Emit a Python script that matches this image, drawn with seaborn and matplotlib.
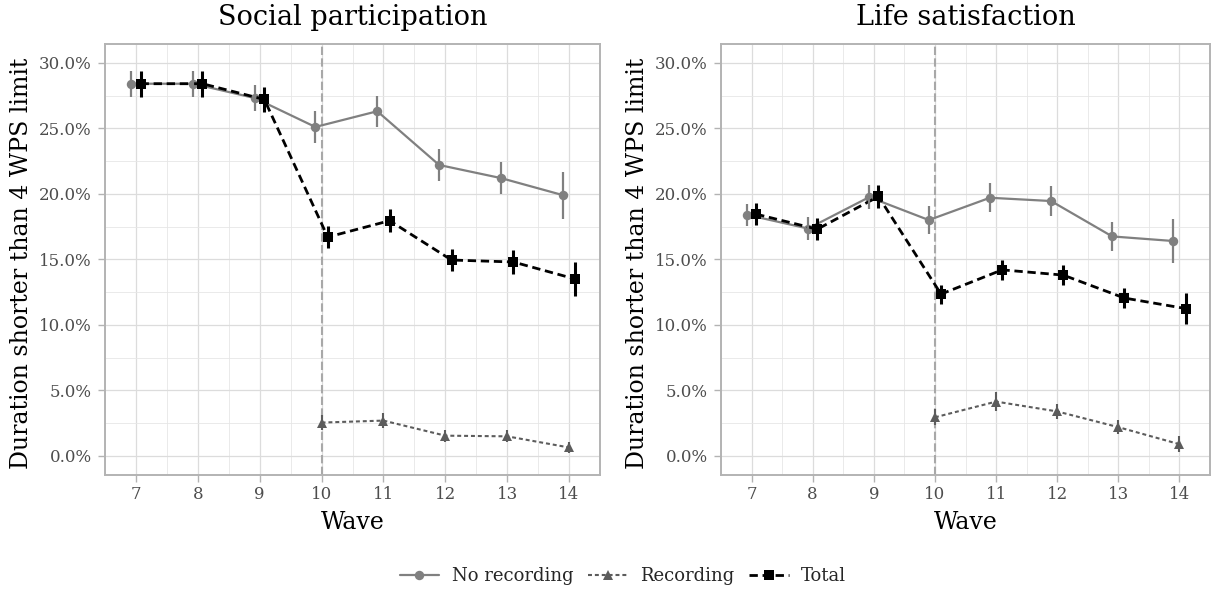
import numpy as np
import pandas as pd
import matplotlib
matplotlib.use("Agg")
import matplotlib.pyplot as plt
import seaborn as sns
from matplotlib.lines import Line2D
from matplotlib.ticker import FuncFormatter, MultipleLocator

# ---------------- data ----------------
waves = [7, 8, 9, 10, 11, 12, 13, 14]
rec_waves = [10, 11, 12, 13, 14]
panel_titles = ["Social participation", "Life satisfaction"]
groups = ["No recording", "Recording", "Total"]

sp_norec = [28.4, 28.4, 27.3, 25.1, 26.3, 22.2, 21.2, 19.9]
sp_norec_err = [1.0, 1.0, 1.0, 1.25, 1.2, 1.2, 1.2, 1.8]
sp_rec = [2.55, 2.7, 1.55, 1.5, 0.65]
sp_rec_err = [0.6, 0.6, 0.45, 0.45, 0.45]
sp_tot = [28.4, 28.4, 27.2, 16.7, 17.95, 14.95, 14.8, 13.5]
sp_tot_err = [1.0, 1.0, 0.97, 0.85, 0.86, 0.83, 0.88, 1.28]

ls_norec = [18.4, 17.35, 19.75, 18.0, 19.7, 19.45, 16.75, 16.4]
ls_norec_err = [0.86, 0.85, 0.89, 1.1, 1.1, 1.13, 1.1, 1.7]
ls_rec = [2.95, 4.15, 3.4, 2.2, 0.9]
ls_rec_err = [0.6, 0.7, 0.6, 0.55, 0.6]
ls_tot = [18.45, 17.3, 19.8, 12.35, 14.2, 13.8, 12.05, 11.25]
ls_tot_err = [0.86, 0.85, 0.89, 0.72, 0.76, 0.78, 0.78, 1.17]

recording_start = 10
y_ticks = [0, 5, 10, 15, 20, 25, 30]

rows = []
for panel, (nr, nre, rc, rce, tt, tte) in zip(
        panel_titles,
        [(sp_norec, sp_norec_err, sp_rec, sp_rec_err, sp_tot, sp_tot_err),
         (ls_norec, ls_norec_err, ls_rec, ls_rec_err, ls_tot, ls_tot_err)]):
    for w, v, e in zip(waves, nr, nre):
        rows.append((panel, "No recording", w, v, e))
    for w, v, e in zip(rec_waves, rc, rce):
        rows.append((panel, "Recording", w, v, e))
    for w, v, e in zip(waves, tt, tte):
        rows.append((panel, "Total", w, v, e))
df = pd.DataFrame(rows, columns=["panel", "group", "wave", "value", "err"])

# dodge like ggplot position_dodge(width=0.3)
dodge_w = 0.3
def dodge(sub):
    present = [g for g in groups if g in set(sub["group"])]
    n = len(present)
    off = {g: (i - (n - 1) / 2) * dodge_w / n for i, g in enumerate(present)}
    return sub["wave"] + sub["group"].map(off)
df["x"] = df.groupby(["panel", "wave"], group_keys=False).apply(dodge)

style = {
    "No recording": dict(color="#808080", marker="o", ms=6.8, lw=1.6,
                         ls="-", elw=1.6),
    "Recording": dict(color="#5c5c5c", marker="^", ms=7.5, lw=1.5,
                      ls=(0, (1.9, 1.4)), elw=1.5),
    "Total": dict(color="#000000", marker="s", ms=7.2, lw=2.0,
                  ls=(0, (3, 1.7)), elw=2.2),
}

# ---------------- figure ----------------
sns.set_theme(style="whitegrid")
plt.rcParams["font.family"] = ["DejaVu Serif"]

W, H = 1213, 592
fig = plt.figure(figsize=(W / 100, H / 100), dpi=100)
fig.patch.set_facecolor("white")
ax_boxes = [(105, 44, 600, 475), (721, 44, 1210, 475)]

for (x0, y0, x1, y1), panel in zip(ax_boxes, panel_titles):
    ax = fig.add_axes([x0 / W, 1 - y1 / H, (x1 - x0) / W, (y1 - y0) / H])
    ax.set_facecolor("white")
    sub = df[df["panel"] == panel]

    ax.axvline(recording_start, color="#a8a8a8", lw=1.5,
               ls=(0, (4, 1.6)), zorder=1.5)

    for g in groups:
        d = sub[sub["group"] == g]
        s = style[g]
        sns.lineplot(data=d, x="x", y="value", ax=ax, color=s["color"],
                     marker=s["marker"], markersize=s["ms"], linewidth=s["lw"],
                     linestyle=s["ls"], markeredgewidth=0, legend=False,
                     errorbar=None, sort=True, zorder=2.5)
        ax.vlines(d["x"], d["value"] - d["err"], d["value"] + d["err"],
                  color=s["color"], lw=s["elw"], zorder=3)

    ax.set_xlim(6.5, 14.5)
    ax.set_ylim(-1.45, 31.43)
    ax.set_xticks(waves)
    ax.xaxis.set_minor_locator(MultipleLocator(0.5))
    ax.set_yticks(y_ticks)
    ax.yaxis.set_minor_locator(MultipleLocator(2.5))
    ax.yaxis.set_major_formatter(FuncFormatter(lambda v, p: f"{v:.1f}%"))

    ax.grid(True, which="major", color="#dcdcdc", lw=0.9)
    ax.grid(True, which="minor", color="#e6e6e6", lw=0.6)
    ax.set_axisbelow(True)
    for sp in ax.spines.values():
        sp.set_color("#b3b3b3")
        sp.set_linewidth(1.4)
        sp.set_visible(True)
    ax.tick_params(which="major", length=5, width=1.0, color="#b3b3b3",
                   labelsize=12, labelcolor="#4d4d4d",
                   bottom=True, left=True)
    ax.tick_params(axis="x", which="major", pad=3)
    ax.tick_params(axis="y", which="major", pad=4.5)
    ax.tick_params(which="minor", length=0)

    ax.set_xlabel("Wave", fontsize=17, color="black", va="baseline")
    ax.xaxis.set_label_coords(0.5, -(529 - 475) / (y1 - y0))
    ax.set_ylabel("Duration shorter than 4 WPS limit", fontsize=17,
                  color="black", va="center")
    ax.yaxis.set_label_coords(-83 / (x1 - x0), 0.49)
    ax.text(0.5, 1 + (44 - 25) / (y1 - y0), panel, transform=ax.transAxes,
            ha="center", va="baseline", fontsize=19.5, color="black")

handles = []
for g in groups:
    s = style[g]
    handles.append(Line2D([0], [0], color=s["color"], marker=s["marker"],
                          markersize=s["ms"], lw=s["lw"], ls=s["ls"],
                          markeredgewidth=0))
fig.legend(handles, groups, loc="center", bbox_to_anchor=(623 / W, 1 - 576 / H),
           ncol=3, frameon=False, fontsize=13, handlelength=2.2,
           columnspacing=0.8, handletextpad=0.7)

fig.savefig("out.png", dpi=100, facecolor="white")
